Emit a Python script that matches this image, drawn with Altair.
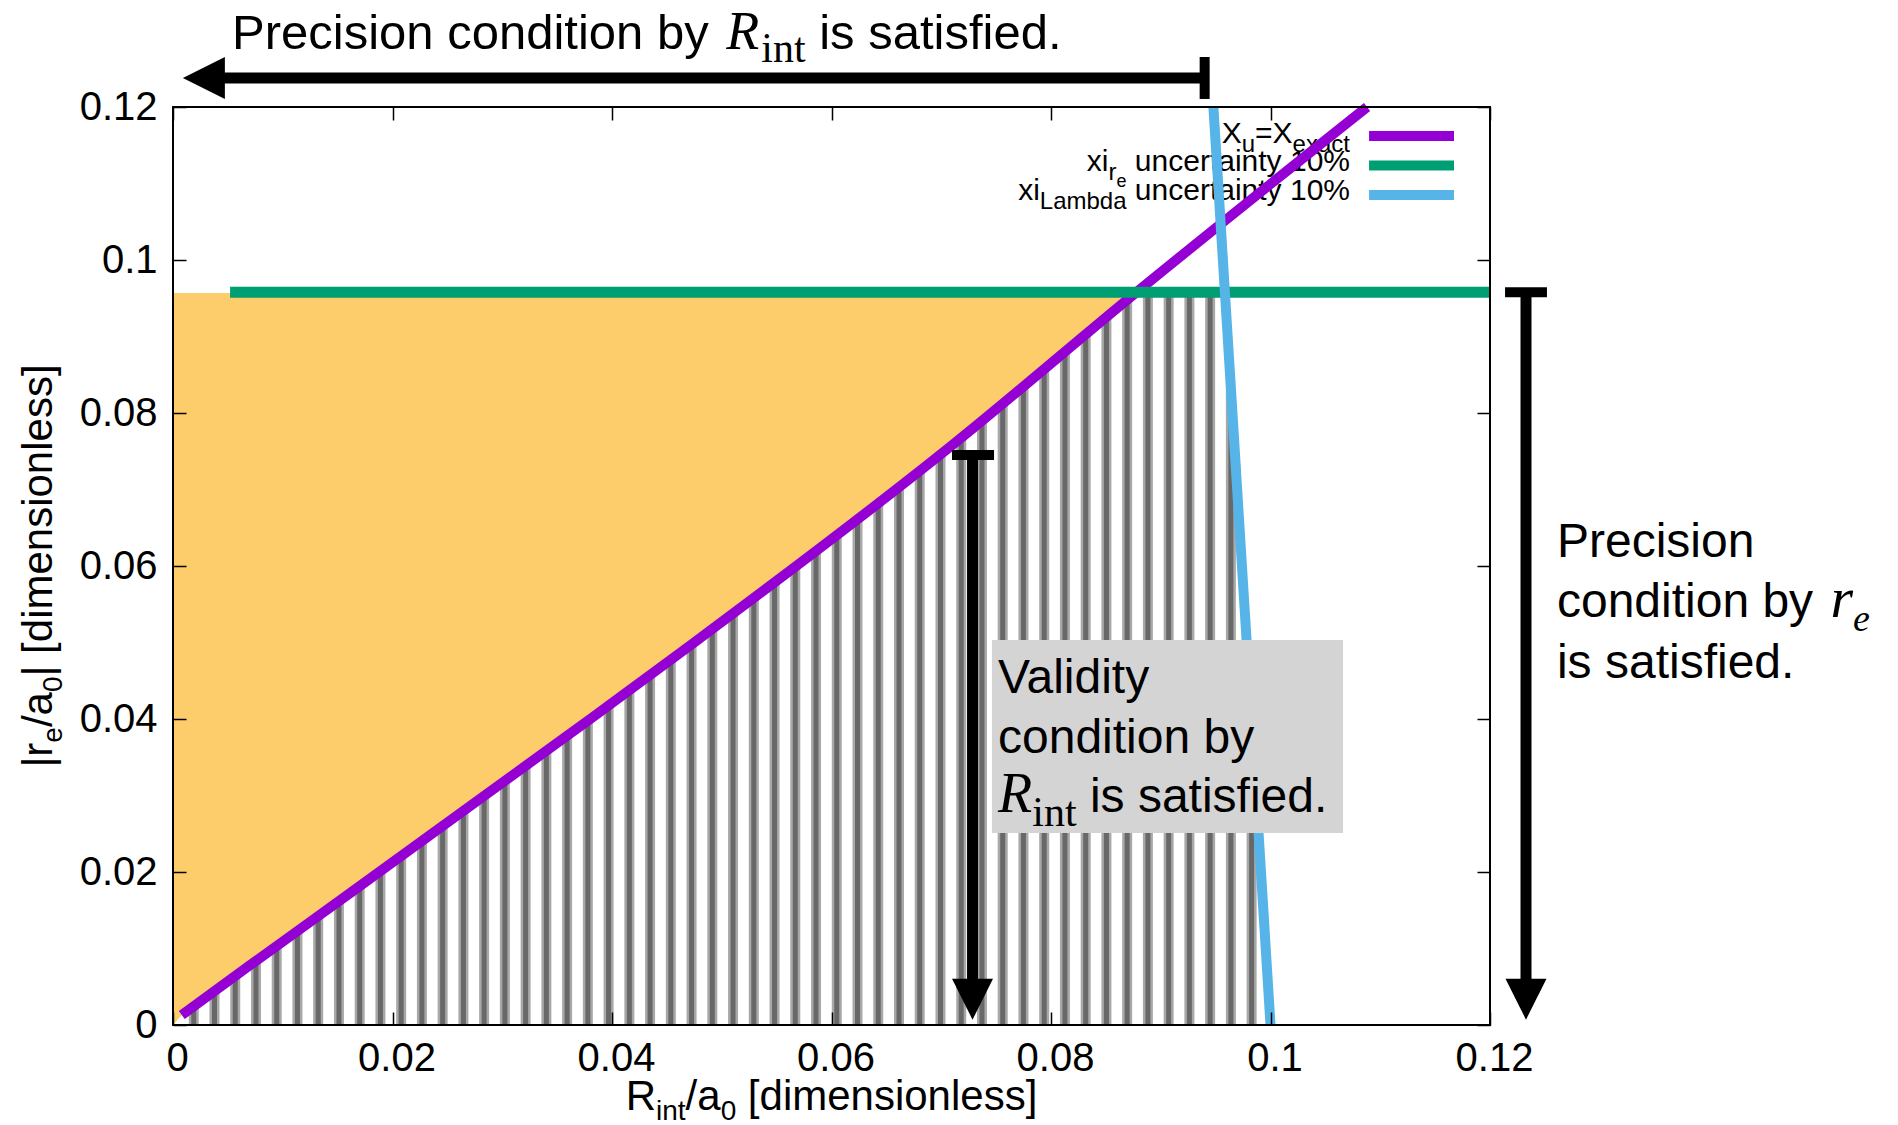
import altair as alt
import pandas as pd

# ----------------------------------------------------------------- data
tick_values = [0, 0.02, 0.04, 0.06, 0.08, 0.1, 0.12]

# X_u = X_exact (purple)
purple_x = [0.0008, 0.0070, 0.0161, 0.0383, 0.0474, 0.0710, 0.0878, 0.1088]
purple_y = [0.0013, 0.0078, 0.0172, 0.0403, 0.0499, 0.0758, 0.0958, 0.1200]
# xi_re uncertainty 10% (green)
green_x = [0.0052, 0.1200]
green_y = [0.0958, 0.0958]
# xi_Lambda uncertainty 10% (blue)
blue_x = [0.1000, 0.0948]
blue_y = [0.0000, 0.1199]

# orange region above the purple curve and below the green level
yellow_x = [0.0, 0.0008, 0.0070, 0.0161, 0.0383, 0.0474, 0.0710, 0.0878]
yellow_lo = [0.0, 0.0013, 0.0078, 0.0172, 0.0403, 0.0499, 0.0758, 0.0957]
yellow_hi = [0.0957] * len(yellow_x)

# hatched region (vertical stripes) left of the blue line
stripe_x = [round(0.00189 * k, 5) for k in range(1, 53)]
stripe_lo = [0.0] * len(stripe_x)
stripe_hi = [0.0955] * len(stripe_x)
mask_y = [0.0, 0.0958]
mask_x = [0.1000, 0.09585]
mask_x2 = [0.1040, 0.1040]

# legend
legend_colors = ["#9400d3", "#009e73", "#56b4e9"]
legend_line_y = [0.11621, 0.11235, 0.10850]
legend_line_x = [0.10898, 0.11672]
legend_text_x = 0.10724
legend_text_y = [0.11523, 0.11157, 0.10778]

# annotations
top_arrow = {"y": 0.12379, "x_from": 0.0940, "x_to": 0.0030, "tip": 0.0009,
             "bar_y": [0.12105, 0.12654]}
mid_arrow = {"x": 0.07285, "y_from": 0.0745, "y_to": 0.0040, "tip": 0.0007,
             "bar_x": [0.07098, 0.07481]}
right_arrow = {"x": 0.12328, "y_from": 0.0958, "y_to": 0.0040, "tip": 0.0007,
               "bar_x": [0.12137, 0.12519]}
box_x = [0.07462, 0.10661]
box_y = [0.02510, 0.05033]
frame_xy = [0.0, 0.12]

# ----------------------------------------------------------------- helpers
XS = alt.Scale(domain=[0, 0.12], nice=False, zero=False)
YS = alt.Scale(domain=[0, 0.12], nice=False, zero=False)


def X(f="x"):
    return alt.X(f"{f}:Q", scale=XS, axis=None)


def Y(f="y"):
    return alt.Y(f"{f}:Q", scale=YS, axis=None)


SANS = {' ': 278, '.': 278, '/': 278, '%': 889, '=': 584, '[': 278, ']': 278, '|': 260,
        'L': 556, 'P': 667, 'R': 722, 'V': 667, 'X': 667,
        'a': 556, 'b': 556, 'c': 500, 'd': 556, 'e': 556, 'f': 278, 'i': 222, 'l': 222,
        'm': 833, 'n': 556, 'o': 556, 'r': 333, 's': 500, 't': 278, 'u': 556, 'x': 500,
        'y': 500}
for _d in "0123456789":
    SANS[_d] = 556
SERIF = {' ': 250, 'i': 278, 'n': 500, 't': 278}
SERIF_I = {' ': 250, 'R': 611, 'r': 389, 'e': 444}
FONTS = {"sans": ("Liberation Sans", "normal", SANS),
         "serif": ("Liberation Serif", "normal", SERIF),
         "ital": ("Liberation Serif", "italic", SERIF_I)}


def text_line(pieces, x, y, align="left", angle=0):
    items = []
    for (t, s, k, dy, gap) in pieces:
        table = FONTS[k][2]
        lead = len(t) - len(t.lstrip(" "))
        body = t.lstrip(" ")
        lead_w = lead * table[" "] * s / 1000.0
        w = sum(table[c] for c in body) * s / 1000.0
        items.append((body, s, k, dy, gap + lead_w, w))
    total = sum(it[4] + it[5] for it in items)
    off = {"left": 0.0, "center": -total / 2.0, "right": -total}[align]
    out = []
    for (t, s, k, dy, pre, w) in items:
        off += pre
        fam, style, _ = FONTS[k]
        out.append(
            alt.Chart(pd.DataFrame({"x": [x], "y": [y]}))
            .mark_text(text=t, font=fam, fontStyle=style, fontSize=s, align="left",
                       baseline="alphabetic", dx=off, dy=dy, angle=angle, color="black")
            .encode(x=X(), y=Y())
        )
        off += w
    return out


def seg(x, y, x2, y2, width, color="black"):
    df = pd.DataFrame({"x": [x], "y": [y], "x2": [x2], "y2": [y2]})
    return alt.Chart(df).mark_rule(strokeWidth=width, color=color, strokeCap="butt").encode(
        x=X(), y=Y(), x2=alt.X2("x2:Q"), y2=alt.Y2("y2:Q"))


def head(x, y, path, size):
    return alt.Chart(pd.DataFrame({"x": [x], "y": [y]})).mark_point(
        shape=path, size=size, filled=True, color="black", opacity=1, strokeWidth=0
    ).encode(x=X(), y=Y())


layers = []

# axes (ticks inside on all four sides, labels on bottom / left)
common = dict(values=tick_values, offset=-13, tickSize=13, tickWidth=1.5, tickColor="black",
              domain=False, grid=False, title=None, zindex=1)
LBL = "format(datum.value, '~g')"
ax_b = alt.Axis(orient="bottom", labelExpr=LBL, labelFont="Liberation Sans", labelFontSize=40,
                labelColor="black", labelPadding=13, labelOffset=4, labelFlush=False,
                labelOverlap=False, **common)
ax_l = alt.Axis(orient="left", labelExpr=LBL, labelFont="Liberation Sans", labelFontSize=40,
                labelColor="black", labelPadding=16, labelFlush=False, labelOverlap=False,
                **common)
ax_t = alt.Axis(orient="top", labels=False, **common)
ax_r = alt.Axis(orient="right", labels=False, **common)
tick_df = pd.DataFrame({"x": tick_values, "y": tick_values})
layers.append(alt.Chart(tick_df).mark_point(opacity=0).encode(
    x=alt.X("x:Q", scale=XS, axis=ax_b), y=alt.Y("y:Q", scale=YS, axis=ax_l)))
layers.append(alt.Chart(tick_df).mark_point(opacity=0).encode(
    x=alt.X("x:Q", scale=XS, axis=ax_t), y=alt.Y("y:Q", scale=YS, axis=ax_r)))

# stripes
stripe_df = pd.DataFrame({"x": stripe_x, "y": stripe_lo, "y2": stripe_hi})
layers.append(alt.Chart(stripe_df).mark_rule(strokeWidth=10, color="#a8a8a8").encode(
    x=X(), y=Y(), y2=alt.Y2("y2:Q")))
layers.append(alt.Chart(stripe_df).mark_rule(strokeWidth=5, color="#686868").encode(
    x=X(), y=Y(), y2=alt.Y2("y2:Q")))
# white region right of the blue line
layers.append(alt.Chart(pd.DataFrame({"y": mask_y, "x": mask_x, "x2": mask_x2}))
              .mark_area(orient="horizontal", color="white", opacity=1)
              .encode(y=Y(), x=X(), x2=alt.X2("x2:Q")))
# orange region
layers.append(alt.Chart(pd.DataFrame({"x": yellow_x, "y": yellow_lo, "y2": yellow_hi}))
              .mark_area(color="#fccd6a", opacity=1, interpolate="monotone")
              .encode(x=X(), y=Y(), y2=alt.Y2("y2:Q")))

# legend texts
layers += text_line([("X", 30, "sans", 0, 0), ("u", 24, "sans", 9, 0),
                     ("=X", 30, "sans", 0, 0), ("exact", 24, "sans", 9, 0)],
                    legend_text_x, legend_text_y[0], align="right")
layers += text_line([("xi", 30, "sans", 0, 0), ("r", 24, "sans", 9, 0),
                     ("e", 18, "sans", 16, 0), (" uncertainty 10%", 30, "sans", 0, 0)],
                    legend_text_x, legend_text_y[1], align="right")
layers += text_line([("xi", 30, "sans", 0, 0), ("Lambda", 24, "sans", 9, 0),
                     (" uncertainty 10%", 30, "sans", 0, 0)],
                    legend_text_x, legend_text_y[2], align="right")

# curves
layers.append(alt.Chart(pd.DataFrame({"x": purple_x, "y": purple_y}))
              .mark_line(color=legend_colors[0], strokeWidth=10, strokeCap="butt",
                         interpolate="monotone")
              .encode(x=X(), y=Y()))
layers.append(alt.Chart(pd.DataFrame({"x": green_x, "y": green_y}))
              .mark_line(color=legend_colors[1], strokeWidth=11, strokeCap="butt")
              .encode(x=X(), y=Y()))
layers.append(alt.Chart(pd.DataFrame({"x": blue_x, "y": blue_y}))
              .mark_line(color=legend_colors[2], strokeWidth=10, strokeCap="butt")
              .encode(x=X(), y=Y()))

# legend samples
for c, ly in zip(legend_colors, legend_line_y):
    layers.append(seg(legend_line_x[0], ly, legend_line_x[1], ly, 10, c))

# grey box + text
layers.append(alt.Chart(pd.DataFrame({"x": [box_x[0]], "x2": [box_x[1]],
                                      "y": [box_y[0]], "y2": [box_y[1]]}))
              .mark_rect(color="#d4d4d4", opacity=1)
              .encode(x=X(), x2=alt.X2("x2:Q"), y=Y(), y2=alt.Y2("y2:Q")))
layers += text_line([("Validity", 48, "sans", 0, 0)], 0.07517, 0.04340)
layers += text_line([("condition by", 48, "sans", 0, 0)], 0.07517, 0.03556)
layers += text_line([("R", 56, "ital", 0, 0), ("int", 42, "serif", 14, 0),
                     (" is satisfied.", 48, "sans", 0, 0)], 0.07517, 0.02784)

# arrows
DOWN = "M-1,-2L1,-2L0,0Z"
LEFT = "M0,0L2,-1L2,1Z"
layers.append(seg(top_arrow["x_from"], top_arrow["y"], top_arrow["x_to"], top_arrow["y"], 11))
layers.append(seg(top_arrow["x_from"], top_arrow["bar_y"][0], top_arrow["x_from"],
                  top_arrow["bar_y"][1], 10))
layers.append(head(top_arrow["tip"], top_arrow["y"], LEFT, 1764))

layers.append(seg(mid_arrow["x"], mid_arrow["y_from"], mid_arrow["x"], mid_arrow["y_to"], 11))
layers.append(seg(mid_arrow["bar_x"][0], mid_arrow["y_from"], mid_arrow["bar_x"][1],
                  mid_arrow["y_from"], 10))
layers.append(head(mid_arrow["x"], mid_arrow["tip"], DOWN, 1681))

layers.append(seg(right_arrow["x"], right_arrow["y_from"], right_arrow["x"],
                  right_arrow["y_to"], 11))
layers.append(seg(right_arrow["bar_x"][0], right_arrow["y_from"], right_arrow["bar_x"][1],
                  right_arrow["y_from"], 10))
layers.append(head(right_arrow["x"], right_arrow["tip"], DOWN, 1681))

# annotation texts outside the plot
layers += text_line([("Precision condition by ", 49, "sans", 0, 0), ("R", 54, "ital", 0, 4),
                     ("int", 42, "serif", 13, 2), (" is satisfied.", 49, "sans", 0, 0)],
                    0.00538, 0.12758)
layers += text_line([("Precision", 48, "sans", 0, 0)], 0.12610, 0.06118)
layers += text_line([("condition by ", 48, "sans", 0, 0), ("r", 58, "ital", 0, 4),
                     ("e", 38, "ital", 14, 0)], 0.12610, 0.05333)
layers += text_line([("is satisfied.", 48, "sans", 0, 0)], 0.12610, 0.04536)

# axis titles
layers += text_line([("R", 42, "sans", 0, 0), ("int", 28, "sans", 10, 0),
                     ("/a", 42, "sans", 0, 0), ("0", 28, "sans", 10, 0),
                     (" [dimensionless]", 42, "sans", 0, 0)],
                    0.06, -0.01111, align="center")
layers += text_line([("|r", 42, "sans", 0, 0), ("e", 28, "sans", 10, 0),
                     ("/a", 42, "sans", 0, 0), ("0", 28, "sans", 10, 0),
                     ("| [dimensionless]", 42, "sans", 0, 0)],
                    -0.01102, 0.06, align="center", angle=270)

# frame
layers.append(alt.Chart(pd.DataFrame({"x": [frame_xy[0]], "x2": [frame_xy[1]],
                                      "y": [frame_xy[0]], "y2": [frame_xy[1]]}))
              .mark_rect(filled=False, stroke="black", strokeWidth=2, fillOpacity=0)
              .encode(x=X(), x2=alt.X2("x2:Q"), y=Y(), y2=alt.Y2("y2:Q")))

chart = (
    alt.layer(*layers)
    .resolve_axis(x="independent", y="independent")
    .properties(width=1317, height=918,
                autosize=alt.AutoSizeParams(type="none"),
                padding={"left": 173, "top": 107, "right": 408, "bottom": 100},
                background="white")
    .configure_view(stroke=None)
)

chart.save("out.html", embed_options={"renderer": "svg", "actions": False})
